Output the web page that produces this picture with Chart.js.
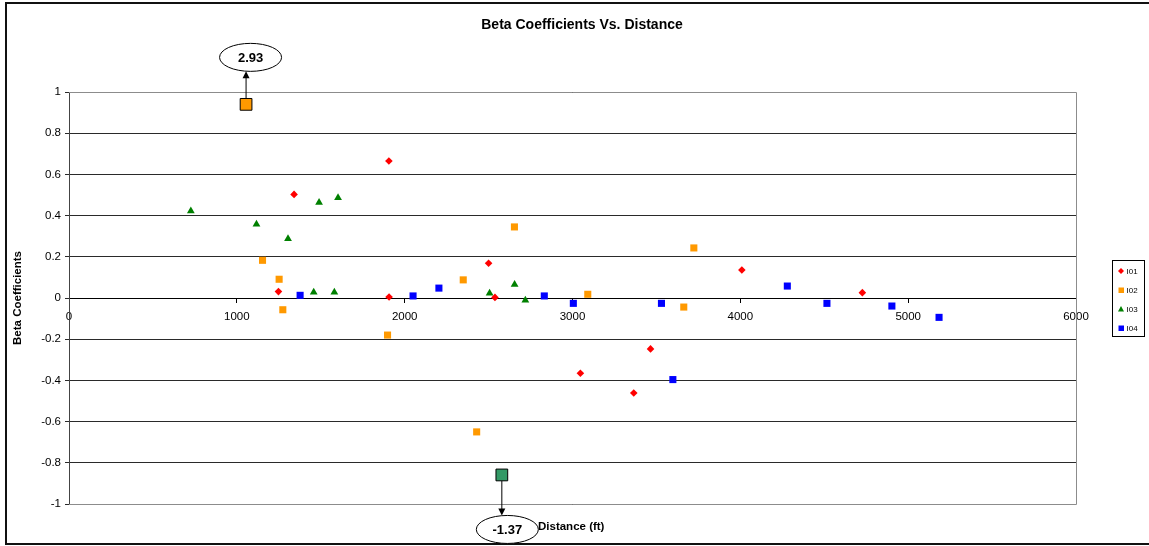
<!DOCTYPE html>
<html>
<head>
<meta charset="utf-8">
<script src="https://cdn.jsdelivr.net/npm/chart.js@4/dist/chart.umd.min.js"></script>
<style>
  html, body { margin: 0; padding: 0; background: #fff; }
  #wrap { position: relative; width: 1149px; height: 546px; }
</style>
</head>
<body>
<div id="wrap"><canvas id="betaChart" width="1149" height="546"></canvas></div>
<script>
// -----------------------------------------------------------------------------
// Data
// -----------------------------------------------------------------------------
const seriesNames = ['I01', 'I02', 'I03', 'I04'];

const i01X = [1248, 1341, 1906, 1907, 2500, 2538, 3047, 3365, 3465, 4009, 4727];
const i01Y = [0.031, 0.503, 0.665, 0.005, 0.169, 0.003, -0.365, -0.461, -0.247, 0.136, 0.026];

const i02X = [1153, 1252, 1274, 1898, 2349, 2429, 2654, 3091, 3663, 3723];
const i02Y = [0.183, 0.091, -0.057, -0.18, 0.088, -0.65, 0.345, 0.018, -0.044, 0.243];

const i03X = [726, 1117, 1305, 1458, 1490, 1581, 1603, 2506, 2655, 2719];
const i03Y = [0.422, 0.358, 0.288, 0.028, 0.463, 0.028, 0.487, 0.023, 0.065, -0.011];

const i04X = [1377, 2050, 2204, 2832, 3005, 3530, 3598, 4280, 4516, 4903, 5184];
const i04Y = [0.013, 0.01, 0.048, 0.01, -0.026, -0.026, -0.396, 0.058, -0.026, -0.039, -0.094];

// off-scale points, drawn at the edge with their true value in a callout
const calloutX = [1055, 2579];
const calloutY = [0.94, -0.859];
const calloutLabels = ['2.93', '-1.37'];

const xTickValues = [0, 1000, 2000, 3000, 4000, 5000, 6000];
const yTickValues = [-1, -0.8, -0.6, -0.4, -0.2, 0, 0.2, 0.4, 0.6, 0.8, 1];

const FONT = '"Liberation Sans", Arial, Helvetica, sans-serif';

const toPoints = (xs, ys) => xs.map((x, i) => ({ x: x, y: ys[i] }));

// -----------------------------------------------------------------------------
// Extra drawing: frame, titles, legend box, callouts
// -----------------------------------------------------------------------------
const decorPlugin = {
  id: 'decor',
  beforeDatasetsDraw(chart) {
    const { ctx, chartArea: a } = chart;
    ctx.save();
    ctx.strokeStyle = '#8c8c8c';
    ctx.lineWidth = 1;
    ctx.beginPath();
    ctx.moveTo(a.left, a.top + 0.5);
    ctx.lineTo(a.right + 0.5, a.top + 0.5);
    ctx.lineTo(a.right + 0.5, a.bottom + 0.5);
    ctx.lineTo(a.left, a.bottom + 0.5);
    ctx.stroke();
    ctx.restore();
  },
  afterDraw(chart) {
    const { ctx, chartArea: a } = chart;
    ctx.save();

    // outer frame
    ctx.strokeStyle = '#111';
    ctx.lineWidth = 2;
    ctx.beginPath();
    ctx.moveTo(1160, 3);
    ctx.lineTo(6, 3);
    ctx.lineTo(6, 544);
    ctx.lineTo(1160, 544);
    ctx.stroke();

    // chart title
    ctx.fillStyle = '#000';
    ctx.textAlign = 'center';
    ctx.textBaseline = 'middle';
    ctx.font = 'bold 14px ' + FONT;
    ctx.fillText('Beta Coefficients Vs. Distance', 582, 25);

    // axis titles
    ctx.font = 'bold 11.5px ' + FONT;
    ctx.textAlign = 'left';
    ctx.fillText('Distance (ft)', 538, 527);
    ctx.save();
    ctx.translate(18, (a.top + a.bottom) / 2);
    ctx.rotate(-Math.PI / 2);
    ctx.textAlign = 'center';
    ctx.fillText('Beta Coefficients', 0, 0);
    ctx.restore();

    // legend
    ctx.strokeStyle = '#000';
    ctx.lineWidth = 1;
    ctx.strokeRect(1112.5, 260.5, 32, 76);
    ctx.font = '8px ' + FONT;
    ctx.textAlign = 'left';
    const rows = [271, 290, 309, 328];
    chart.data.datasets.slice(0, 4).forEach((ds, i) => {
      const y = rows[i];
      ctx.fillStyle = ds.pointBackgroundColor;
      ctx.beginPath();
      if (ds.pointStyle === 'rectRot') {
        ctx.moveTo(1121, y - 3); ctx.lineTo(1124, y); ctx.lineTo(1121, y + 3); ctx.lineTo(1118, y);
      } else if (ds.pointStyle === 'triangle') {
        ctx.moveTo(1121, y - 3); ctx.lineTo(1124, y + 2.5); ctx.lineTo(1118, y + 2.5);
      } else {
        ctx.rect(1118.5, y - 2.5, 5.5, 5.5);
      }
      ctx.fill();
      ctx.fillStyle = '#000';
      ctx.fillText(ds.label, 1126.5, y + 0.5);
    });

    // callouts
    const meta = chart.getDatasetMeta(4);
    ctx.font = 'bold 13px ' + FONT;
    ctx.textAlign = 'center';
    meta.data.forEach((pt, i) => {
      const up = calloutY[i] > 0;
      const ex = pt.x + (up ? 4.5 : 5.5);
      const ey = pt.y + (up ? -47 : 54.5);
      const rx = 31, ry = 14;
      const start = up ? pt.y - 6 : pt.y + 6;
      const tip = up ? ey + ry : ey - ry;
      const dir = up ? 1 : -1;
      ctx.strokeStyle = '#000';
      ctx.fillStyle = '#000';
      ctx.lineWidth = 1;
      ctx.beginPath();
      ctx.moveTo(pt.x, start);
      ctx.lineTo(pt.x, tip + dir * 5);
      ctx.stroke();
      ctx.beginPath();
      ctx.moveTo(pt.x, tip);
      ctx.lineTo(pt.x - 3.5, tip + dir * 7);
      ctx.lineTo(pt.x + 3.5, tip + dir * 7);
      ctx.closePath();
      ctx.fill();
      ctx.beginPath();
      ctx.ellipse(ex, ey, rx, ry, 0, 0, Math.PI * 2);
      ctx.fillStyle = '#fff';
      ctx.fill();
      ctx.stroke();
      ctx.fillStyle = '#000';
      ctx.fillText(calloutLabels[i], ex, ey + 1);
    });

    ctx.restore();
  }
};

// -----------------------------------------------------------------------------
// Chart
// -----------------------------------------------------------------------------
const ctx = document.getElementById('betaChart').getContext('2d');

new Chart(ctx, {
  type: 'scatter',
  data: {
    datasets: [
      {
        label: seriesNames[0],
        data: toPoints(i01X, i01Y),
        pointStyle: 'rectRot',
        pointRadius: 3.8,
        pointBackgroundColor: '#ff0000',
        pointBorderWidth: 0
      },
      {
        label: seriesNames[1],
        data: toPoints(i02X, i02Y),
        pointStyle: 'rect',
        pointRadius: 5,
        pointBackgroundColor: '#ff9900',
        pointBorderWidth: 0
      },
      {
        label: seriesNames[2],
        data: toPoints(i03X, i03Y),
        pointStyle: 'triangle',
        pointRadius: 4.5,
        pointBackgroundColor: '#008000',
        pointBorderWidth: 0
      },
      {
        label: seriesNames[3],
        data: toPoints(i04X, i04Y),
        pointStyle: 'rect',
        pointRadius: 5,
        pointBackgroundColor: '#0000ff',
        pointBorderWidth: 0
      },
      {
        label: 'callouts',
        data: toPoints(calloutX, calloutY),
        pointStyle: 'rect',
        pointRadius: 8.3,
        pointBackgroundColor: ['#ff9900', '#339966'],
        pointBorderColor: '#000',
        pointBorderWidth: 1
      }
    ]
  },
  options: {
    responsive: false,
    animation: false,
    layout: { padding: { left: 0, top: 92, right: 73, bottom: 42 } },
    scales: {
      x: {
        type: 'linear',
        position: { y: 0 },
        min: 0,
        max: 6000,
        afterBuildTicks: s => { s.ticks = xTickValues.map(v => ({ value: v })); },
        grid: { drawOnChartArea: false, drawTicks: true, tickLength: 4, color: '#000' },
        border: { color: '#000', width: 1 },
        ticks: {
          color: '#000',
          padding: 8,
          maxRotation: 0,
          font: { family: FONT, size: 11.5 },
          callback: v => String(v)
        }
      },
      y: {
        type: 'linear',
        min: -1,
        max: 1,
        afterFit: s => { s.width = 69; },
        afterBuildTicks: s => { s.ticks = yTickValues.map(v => ({ value: v })); },
        grid: { color: '#2a2a2a', tickLength: 4 },
        border: { color: '#444', width: 1 },
        ticks: {
          color: '#000',
          padding: 4,
          font: { family: FONT, size: 11.5 },
          callback: v => String(v)
        }
      }
    },
    plugins: {
      legend: { display: false },
      title: { display: false },
      tooltip: { enabled: false }
    }
  },
  plugins: [decorPlugin]
});
</script>
</body>
</html>
